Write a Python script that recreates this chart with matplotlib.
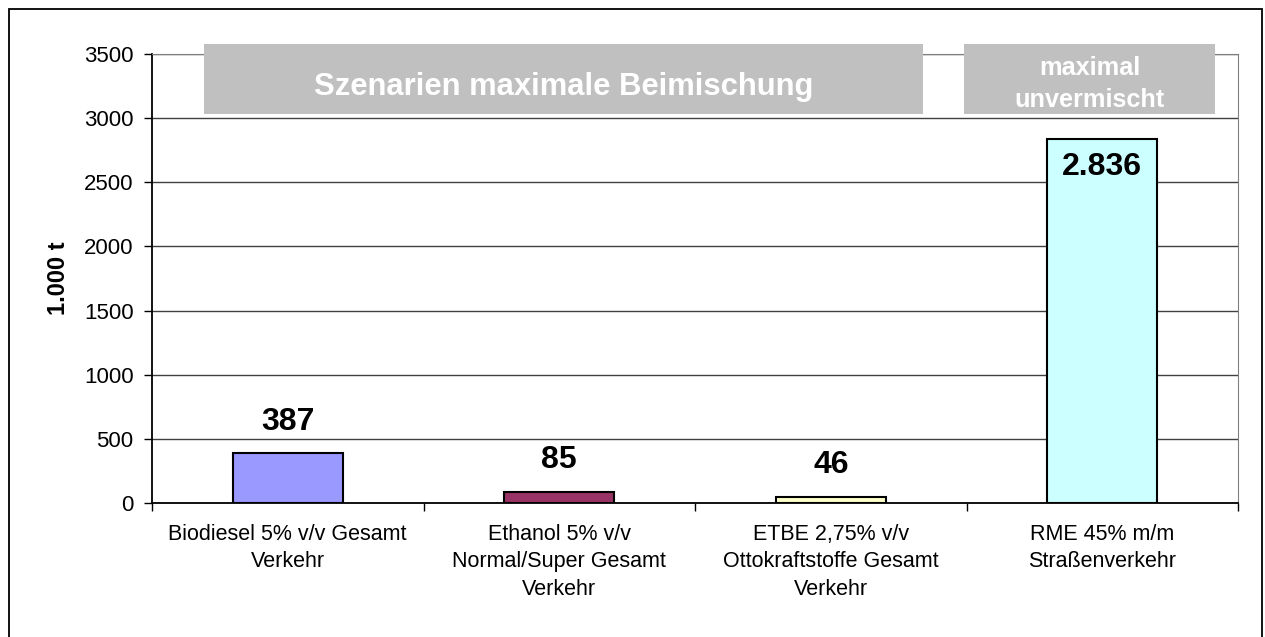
import matplotlib.pyplot as plt
from matplotlib.patches import Rectangle

plt.rcParams['font.family'] = ['Liberation Sans', 'DejaVu Sans']

# data
categories = ['Biodiesel 5% v/v Gesamt\nVerkehr',
              'Ethanol 5% v/v\nNormal/Super Gesamt\nVerkehr',
              'ETBE 2,75% v/v\nOttokraftstoffe Gesamt\nVerkehr',
              'RME 45% m/m\nStraßenverkehr']
values = [387, 85, 46, 2836]
value_labels = ['387', '85', '46', '2.836']
colors = ['#9999FF', '#993366', '#FFFFCC', '#CCFFFF']
yticks = [0, 500, 1000, 1500, 2000, 2500, 3000, 3500]

W, H = 1265, 637
fig = plt.figure(figsize=(W / 100, H / 100), dpi=100)
ax = fig.add_axes([152/W, 1 - 503/H, (1238-152)/W, (503-54)/H])

x = range(len(values))
ax.bar(x, values, width=0.405, color=colors, edgecolor='black', linewidth=1.5, zorder=3)
ax.set_xlim(-0.5, 3.5)
ax.set_ylim(0, 3500)
ax.set_yticks(yticks)
ax.set_yticklabels([str(t) for t in yticks], fontsize=16)
ax.yaxis.grid(True, color='#404040', linewidth=1.0)
ax.set_axisbelow(True)

# category ticks at boundaries, labels centered
ax.set_xticks([-0.5, 0.5, 1.5, 2.5, 3.5])
ax.set_xticklabels([])
ax.set_xticks(list(x), minor=True)
ax.set_xticklabels(categories, minor=True, fontsize=15.5, linespacing=1.4)
ax.tick_params(axis='x', which='minor', length=0, pad=15)
ax.tick_params(axis='x', which='major', length=5.5, width=1, direction='out')
ax.tick_params(axis='y', length=5.8, width=1, direction='out', pad=7.5)

for s in ['top', 'right']:
    ax.spines[s].set_color('#808080')
for s in ['left', 'bottom']:
    ax.spines[s].set_color('black')
    ax.spines[s].set_linewidth(1.3)

ax.set_ylabel('1.000 t', fontsize=17, fontweight='bold')
ax.yaxis.set_label_coords(-82/(1238-152), 0.5)

# value labels
for i, (v, lab) in enumerate(zip(values, value_labels)):
    if v > 2000:
        ax.text(i, v - 280, lab, ha='center', va='baseline', fontsize=23, fontweight='bold', zorder=4)
    else:
        ax.text(i, v + 185, lab, ha='center', va='baseline', fontsize=23, fontweight='bold', zorder=4)

# grey header boxes (figure pixel coordinates)
header_boxes = [(204, 923), (964, 1215)]
for (x0, x1) in header_boxes:
    fig.patches.append(Rectangle((x0/W, 1 - 114/H), (x1-x0)/W, 70/H,
                                 transform=fig.transFigure, facecolor='#C0C0C0',
                                 edgecolor='none', zorder=5))
fig.text((204+923)/2/W, 1 - 95/H, 'Szenarien maximale Beimischung', ha='center',
         va='baseline', color='white', fontsize=22.3, fontweight='bold', zorder=6)
fig.text((964+1215)/2/W, 1 - 75/H, 'maximal', ha='center', va='baseline',
         color='white', fontsize=18.2, fontweight='bold', zorder=6)
fig.text((964+1215)/2/W, 1 - 107/H, 'unvermischt', ha='center', va='baseline',
         color='white', fontsize=18.2, fontweight='bold', zorder=6)

# outer frame
fig.patches.append(Rectangle((9/W, -0.1), (1262-9)/W, 1.1 - 9/H, transform=fig.transFigure,
                             facecolor='none', edgecolor='black', linewidth=1.3, zorder=10))

fig.savefig('out.png', dpi=100)
